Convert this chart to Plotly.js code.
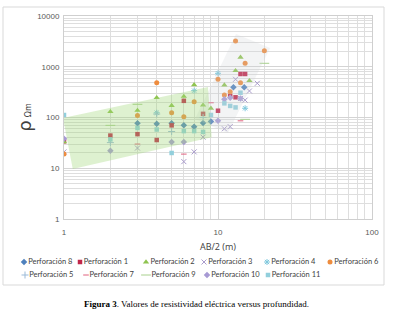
<!DOCTYPE html>
<html><head><meta charset="utf-8">
<script src="https://cdn.plot.ly/plotly-3.0.1.min.js"></script>
<style>html,body{margin:0;padding:0;background:#fff}#c{width:393px;height:316px}</style>
</head><body><div id="c"></div>
<script>
// Data (AB/2 in m, resistivity in ohm-m)
const p8x = [3,4,5,6,7,8,9,12.6,14.8];
const p8y = [77,75,77,70,66,78,83,393,393];
const p1x = [1,2,3,4,5,6,8,10,12,13,14,15];
const p1y = [34,44,47,36,70,213,118,136,265,250,720,720];
const p2x = [1,2,3,4,5,6,7,8,9,11,13,14,16];
const p2y = [33,130,138,246,172,260,440,175,152,437,836,1535,531];
const p3x = [1,3,6,7,8,11,12,13,14,15,16,18];
const p3y = [21,25,13.5,21,41,60,66,566,237,220,333,472];
const p4x = [4,7,10,15];
const p4y = [124,338,743,152];
const p6x = [1,3,4,5,6,7,10,11,12,13,14,15,20];
const p6y = [19,110,485,124,104,205,566,277,322,3215,485,1170,2070];
const p5x = [2,4,5,8];
const p5y = [32,117,53,100];
const p7x = [3,6,9,14];
const p7y = [30,19,195,86];
const p9x = [2,3,15,20];
const p9y = [70,182,92,1170];
const p10x = [1,2,5,6,10,11,12,14];
const p10y = [38,22,33,33,86,228,245,237];
const p11x = [1,2,3,4,5,6,7,8,9,11,12,13,14];
const p11y = [112,37,62,58,20,54,54,52,112,190,169,158,308];
// shaded envelopes
const greenX = [0.985, 8.6, 9.1, 1.14];
const greenY = [98, 400, 41, 9.7];
const grayX = [13.1, 21.8, 11.6, 7.09];
const grayY = [4420, 2340, 49.5, 93.5];
const xTicks = ['1','10','100'];
const yTicks = ['1','10','100','1000','10000'];

const FW = 393, FH = 316;
// series: name, x, y, symbol, color, size, thin, legend position (px)
const series = [
  {n:'Perforación 8', x:p8x, y:p8y, s:'diamond', c:'#4f81bd', z:5, lx:24, ly:262},
  {n:'Perforación 1', x:p1x, y:p1y, s:'square', c:'#c0264a', z:4.5, lx:80, ly:262},
  {n:'Perforación 2', x:p2x, y:p2y, s:'triangle-up', c:'#8fc450', z:5.5, lx:146, ly:262},
  {n:'Perforación 3', x:p3x, y:p3y, s:'x-thin', c:'#a99bcc', z:5, t:true, lx:204, ly:262},
  {n:'Perforación 4', x:p4x, y:p4y, s:'asterisk', c:'#7fc8dd', z:5, t:true, lx:267, ly:262},
  {n:'Perforación 6', x:p6x, y:p6y, s:'circle', c:'#ee8c3e', z:5, lx:330, ly:262},
  {n:'Perforación 5', x:p5x, y:p5y, s:'cross-thin', c:'#9bbad8', z:5, t:true, lx:25, ly:275},
  {n:'Perforación 7', x:p7x, y:p7y, s:'line-ew', c:'#e0607e', z:4, t:true, lx:86, ly:275},
  {n:'Perforación 9', x:p9x, y:p9y, s:'line-ew', c:'#a8d08d', z:7, t:true, lx:146, ly:275},
  {n:'Perforación 10', x:p10x, y:p10y, s:'diamond', c:'#a79ad4', z:5, lx:207, ly:275},
  {n:'Perforación 11', x:p11x, y:p11y, s:'square', c:'#92cfdc', z:4.5, lx:268, ly:275}
];
function mkMarker(d){
  const m = {symbol:d.s, color:d.c, size:d.z};
  if (d.t) m.line = {width:1, color:d.c};
  return m;
}
const traces = series.map(d => ({type:'scatter', mode:'markers', name:d.n, x:d.x, y:d.y,
  marker:mkMarker(d), hoverinfo:'skip', showlegend:false, xaxis:'x', yaxis:'y'}));
traces.push({type:'scatter', mode:'lines', x:grayX, y:grayY, fill:'toself', fillcolor:'rgba(205,210,215,0.24)',
  line:{width:0}, showlegend:false, hoverinfo:'skip', xaxis:'x', yaxis:'y'});
traces.push({type:'scatter', mode:'lines', x:greenX, y:greenY, fill:'toself', fillcolor:'rgba(160,215,120,0.35)',
  line:{width:0}, showlegend:false, hoverinfo:'skip', xaxis:'x', yaxis:'y'});
// legend entries (drawn on a hidden pixel-scaled overlay axis)
series.forEach(d => traces.push({type:'scatter', mode:'markers+text', x:[d.lx], y:[d.ly], text:[d.n],
  textposition:'middle right', textfont:{family:'Lato, sans-serif', size:7.5, color:'#404040'},
  marker:mkMarker(d), cliponaxis:false, showlegend:false, hoverinfo:'skip', xaxis:'x2', yaxis:'y2'}));

function minors(a, b){ const v=[]; for(let d=a; d<b; d++){ for(let k=2;k<=9;k++) v.push(k*Math.pow(10,d)); } return v; }
const L=64, R=372, T=16, B=219;
const axCommon = {showgrid:true, gridcolor:'#d4d4d4', gridwidth:1, zeroline:false,
  showline:true, mirror:true, linecolor:'#cfcfcf', ticks:'', ticklen:0,
  tickfont:{size:8, color:'#595959', family:'Liberation Sans, Arial, sans-serif'}};
const layout = {
  width:FW, height:FH,
  margin:{l:0, r:0, t:0, b:0, autoexpand:false},
  paper_bgcolor:'#fff', plot_bgcolor:'rgba(0,0,0,0)',
  font:{family:'Liberation Sans, Arial, sans-serif', color:'#595959', size:8},
  showlegend:false,
  xaxis:Object.assign({}, axCommon, {type:'log', range:[0,2], domain:[L/FW, R/FW], anchor:'y',
    tickvals:[1,10,100], ticktext:xTicks, ticklabelstandoff:5,
    minor:{tickvals:minors(0,2), showgrid:true, gridcolor:'#dedede', gridwidth:1, ticks:''},
    title:{text:'AB/2 (m)', font:{size:9, color:'#404040', family:'Open Sans, sans-serif'}, standoff:8}}),
  yaxis:Object.assign({}, axCommon, {type:'log', range:[0,4], domain:[1-B/FH, 1-T/FH], anchor:'x',
    tickvals:[1,10,100,1000,10000], ticktext:yTicks, ticklabelstandoff:2,
    minor:{tickvals:minors(0,4), showgrid:true, gridcolor:'#dedede', gridwidth:1, ticks:''},
    title:{text:'<span style="font-size:18px">ρ</span> <span style="font-size:8px">Ωm</span>', font:{size:10, color:'#404040', family:'DejaVu Sans, sans-serif'}, standoff:3}}),
  xaxis2:{domain:[0,1], range:[0,FW], visible:false, anchor:'y2', fixedrange:true},
  yaxis2:{domain:[0,1], range:[FH,0], visible:false, anchor:'x2', fixedrange:true},
  shapes:[{type:'rect', xref:'paper', yref:'paper', x0:3/FW, x1:384/FW, y0:1-285/FH, y1:1-7/FH,
    line:{color:'#d9d9d9', width:1}, layer:'below'}],
  annotations:[{xref:'paper', yref:'paper', x:196.5/FW, y:1-304/FH, xanchor:'center', yanchor:'middle', showarrow:false,
    text:'<b>Figura 3</b>. Valores de resistividad eléctrica versus profundidad.',
    font:{family:'Liberation Serif, Times New Roman, serif', size:9, color:'#000'}}]
};
Plotly.newPlot('c', traces, layout, {staticPlot:true, displayModeBar:false});
</script></body></html>
